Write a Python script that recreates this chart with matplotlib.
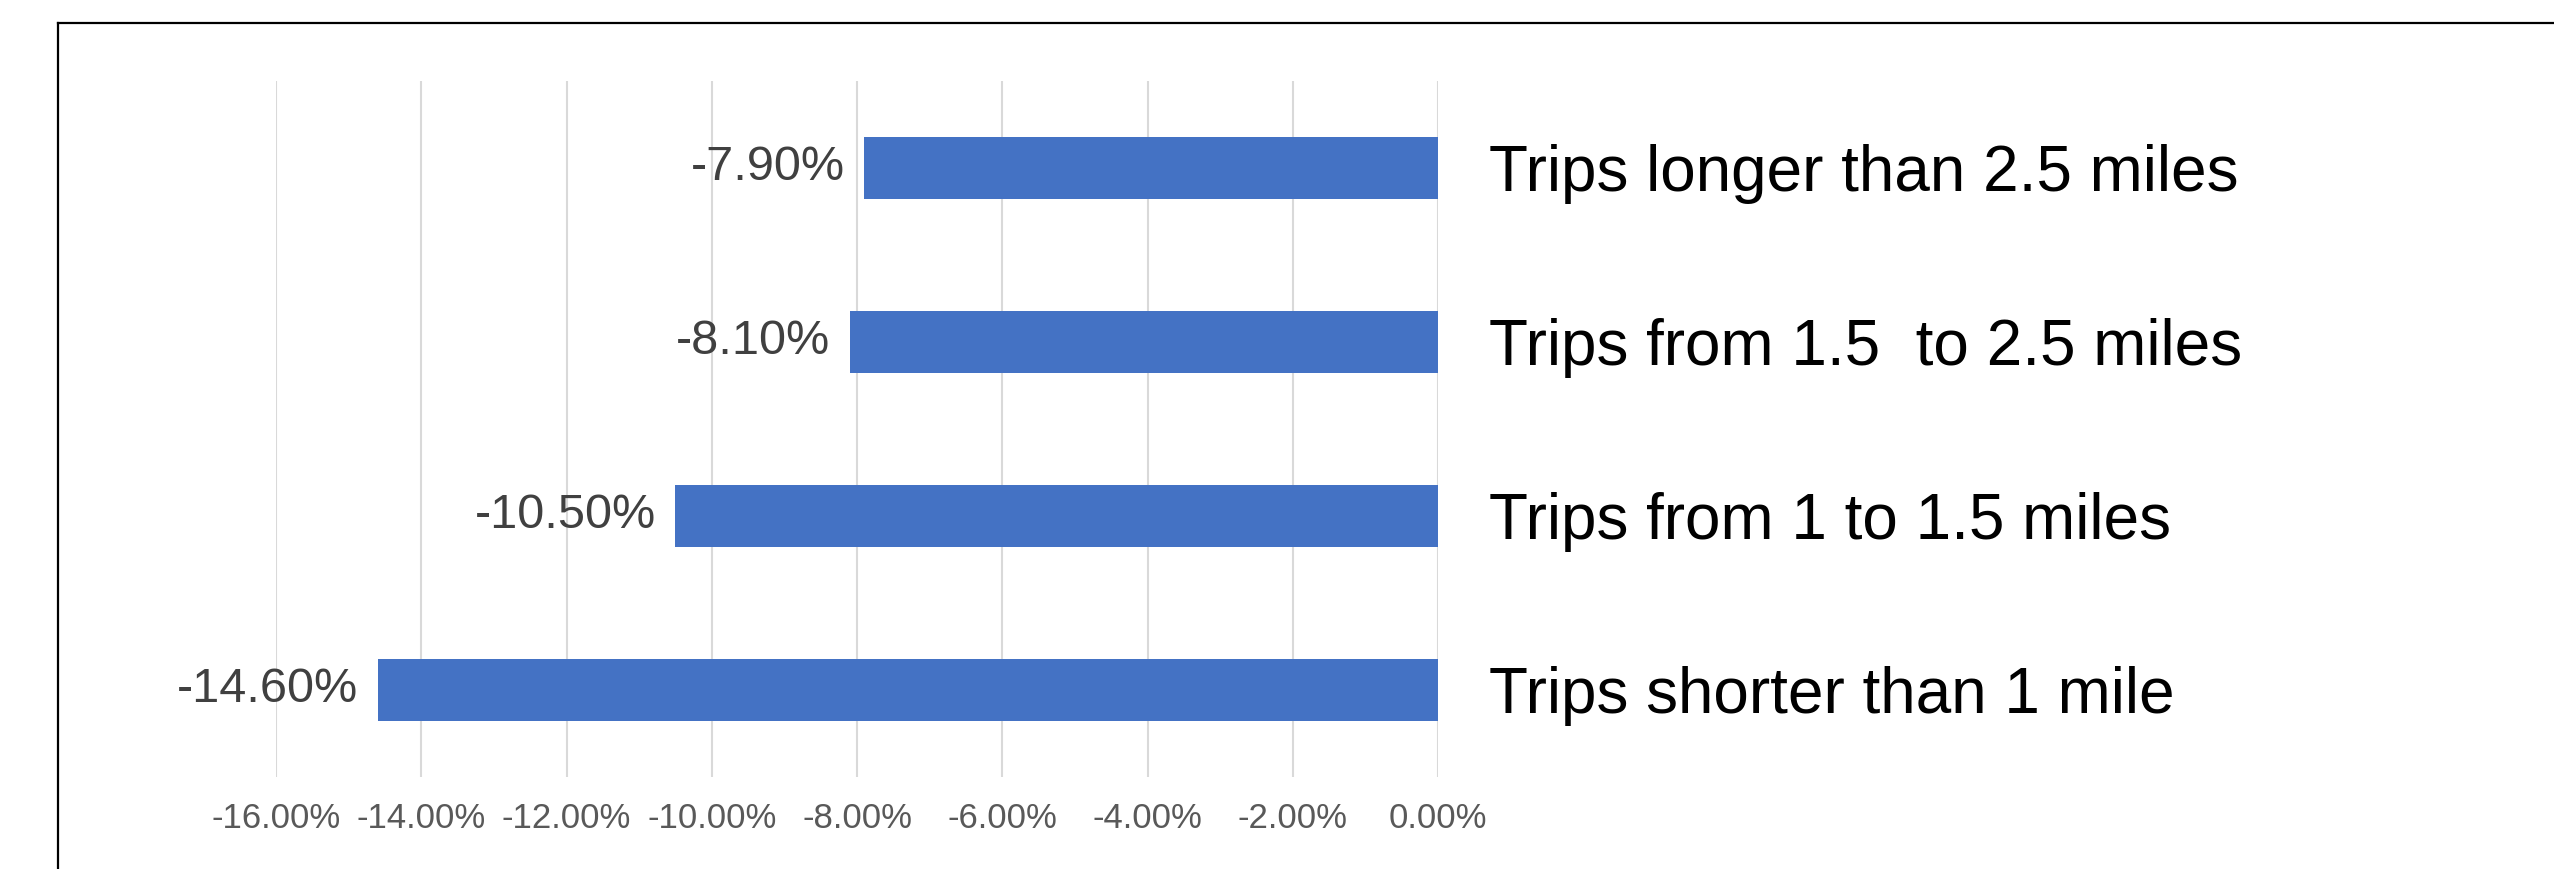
import numpy as np
import matplotlib
matplotlib.use('Agg')
import matplotlib.pyplot as plt
from matplotlib.lines import Line2D

categories = ["Trips shorter than 1 mile", "Trips from 1 to 1.5 miles",
              "Trips from 1.5  to 2.5 miles", "Trips longer than 2.5 miles"]
changes = [-14.6, -10.5, -8.1, -7.9]
xticks = [-16, -14, -12, -10, -8, -6, -4, -2, 0]

plt.rcParams['font.family'] = ['Liberation Sans', 'DejaVu Sans']

W, H = 2554, 869
fig = plt.figure(figsize=(W / 100, H / 100), dpi=100)
ax = fig.add_axes([276 / W, 1 - 777 / H, (1438 - 276) / W, (777 - 81) / H])

ypos = np.arange(len(categories))
bars = ax.barh(ypos, changes, height=0.356, color='#4472C4', zorder=3)
ax.bar_label(bars, labels=["%.2f%%" % v for v in changes], padding=14,
             fontsize=35, color='#404040')

ax.set_xlim(-16, 0)
ax.set_ylim(-0.5, 3.5)
ax.set_xticks(xticks)
ax.set_xticklabels(["%.2f%%" % v for v in xticks])
ax.tick_params(axis='x', length=0, pad=18, labelsize=25, labelcolor='#595959')
ax.grid(axis='x', color='#d9d9d9', linewidth=1.5, zorder=0)

ax.yaxis.tick_right()
ax.set_yticks(ypos)
ax.set_yticklabels(categories)
ax.tick_params(axis='y', length=0, pad=37, labelsize=46, labelcolor='black')

for s in ax.spines.values():
    s.set_visible(False)

# frame: only top and left edges visible
fig.add_artist(Line2D([58 / W, 58 / W], [0, 1 - 23 / H], color='black', linewidth=1.6))
fig.add_artist(Line2D([58 / W, 1], [1 - 23 / H, 1 - 23 / H], color='black', linewidth=1.6))

fig.savefig('out.png', dpi=100)
